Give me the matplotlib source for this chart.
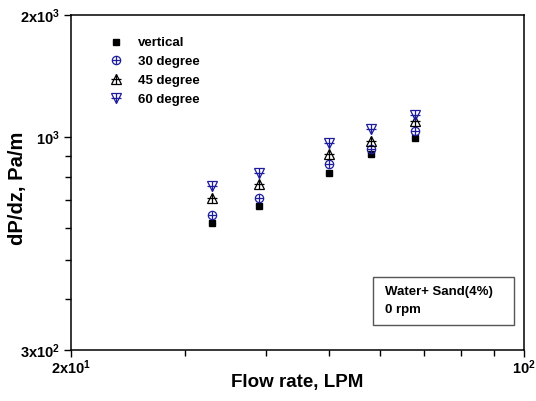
import matplotlib
matplotlib.use("Agg")
import matplotlib.pyplot as plt
from matplotlib.patches import Rectangle
from matplotlib.legend_handler import HandlerTuple
from matplotlib.ticker import FixedLocator, NullFormatter

plt.rcParams["font.family"] = ["Liberation Sans", "DejaVu Sans"]
plt.rcParams["font.weight"] = "bold"
plt.rcParams["mathtext.fontset"] = "custom"
plt.rcParams["mathtext.rm"] = "Liberation Sans:bold"
plt.rcParams["mathtext.it"] = "Liberation Sans:bold"
plt.rcParams["mathtext.bf"] = "Liberation Sans:bold"

# flow rate (LPM)
flow = [33, 39, 50, 58, 68]
# pressure gradient dP/dz (Pa/m)
dp_vertical = [615, 678, 819, 909, 995]
dp_30 = [644, 711, 860, 937, 1037]
dp_45 = [709, 767, 910, 982, 1099]
dp_60 = [760, 819, 968, 1049, 1136]

series_labels = ["vertical", "30 degree", "45 degree", "60 degree"]
y_major = [300, 1000, 2000]
y_major_labels = ["3x10$^2$", "10$^3$", "2x10$^3$"]
y_minor = [400, 500, 600, 700, 800, 900]
x_major = [20, 100]
x_major_labels = ["2x10$^1$", "10$^2$"]
x_minor = [30, 40, 50, 60, 70, 80, 90]

BLUE = "#1c1c9c"

fig = plt.figure(figsize=(5.36, 4.01), dpi=100)
ax = fig.add_axes([0.1325, 0.1272, 0.845, 0.8354])
ax.set_xscale("log")
ax.set_yscale("log")

h_v, = ax.plot(flow, dp_vertical, "s", ms=4.5, color="black", mec="black", ls="none")
h_30a, = ax.plot(flow, dp_30, "o", ms=6, mfc="none", mec=BLUE, mew=0.9, ls="none")
h_30b, = ax.plot(flow, dp_30, "+", ms=6, color=BLUE, mew=0.9, ls="none")
h_45a, = ax.plot(flow, dp_45, "^", ms=6.5, mfc="none", mec="black", mew=0.9, ls="none")
h_45b, = ax.plot(flow, dp_45, "+", ms=7, color="black", mew=0.9, ls="none")
h_60a, = ax.plot(flow, dp_60, "v", ms=6.5, mfc="none", mec=BLUE, mew=0.9, ls="none")
h_60b, = ax.plot(flow, dp_60, "+", ms=7, color=BLUE, mew=0.9, ls="none")

ax.set_xlim(20, 100)
ax.set_ylim(300, 2000)

ax.xaxis.set_major_locator(FixedLocator(x_major))
ax.xaxis.set_minor_locator(FixedLocator(x_minor))
ax.set_xticklabels(x_major_labels)
ax.xaxis.set_minor_formatter(NullFormatter())
ax.yaxis.set_major_locator(FixedLocator(y_major))
ax.yaxis.set_minor_locator(FixedLocator(y_minor))
ax.set_yticklabels(y_major_labels)
ax.yaxis.set_minor_formatter(NullFormatter())

ax.tick_params(which="major", direction="out", length=5, width=1, labelsize=10.5)
ax.tick_params(axis="x", which="major", pad=1)
ax.tick_params(axis="y", which="major", pad=3)
ax.tick_params(which="minor", direction="out", length=4, width=1)
ax.tick_params(top=False, right=False)
for sp in ax.spines.values():
    sp.set_linewidth(1.1)

# axis titles placed directly in figure coords
fig.text(0.555, 1 - 383 / 401, "Flow rate, LPM", fontsize=13.5, fontweight="bold",
         ha="center", va="center")
fig.text(18 / 536, 1 - 188 / 401, "dP/dz, Pa/m", fontsize=14.5, fontweight="bold",
         ha="center", va="center", rotation=90)

ax.legend([h_v, (h_30a, h_30b), (h_45a, h_45b), (h_60a, h_60b)], series_labels,
          handler_map={tuple: HandlerTuple(ndivide=1, pad=0)},
          loc="upper left", bbox_to_anchor=(0.075, 0.95), frameon=False,
          fontsize=9.5, handlelength=0.8, handletextpad=1.3, labelspacing=0.5,
          borderaxespad=0)

ax.add_patch(Rectangle((0.667, 0.0746), 0.311, 0.1434, transform=ax.transAxes,
                       fill=False, edgecolor="#555555", linewidth=1))
ax.text(0.693, 0.174, "Water+ Sand(4%)", transform=ax.transAxes, fontsize=9.5,
        fontweight="bold", va="center", ha="left")
ax.text(0.693, 0.119, "0 rpm", transform=ax.transAxes, fontsize=9.5,
        fontweight="bold", va="center", ha="left")

fig.savefig("out.png", dpi=100)
